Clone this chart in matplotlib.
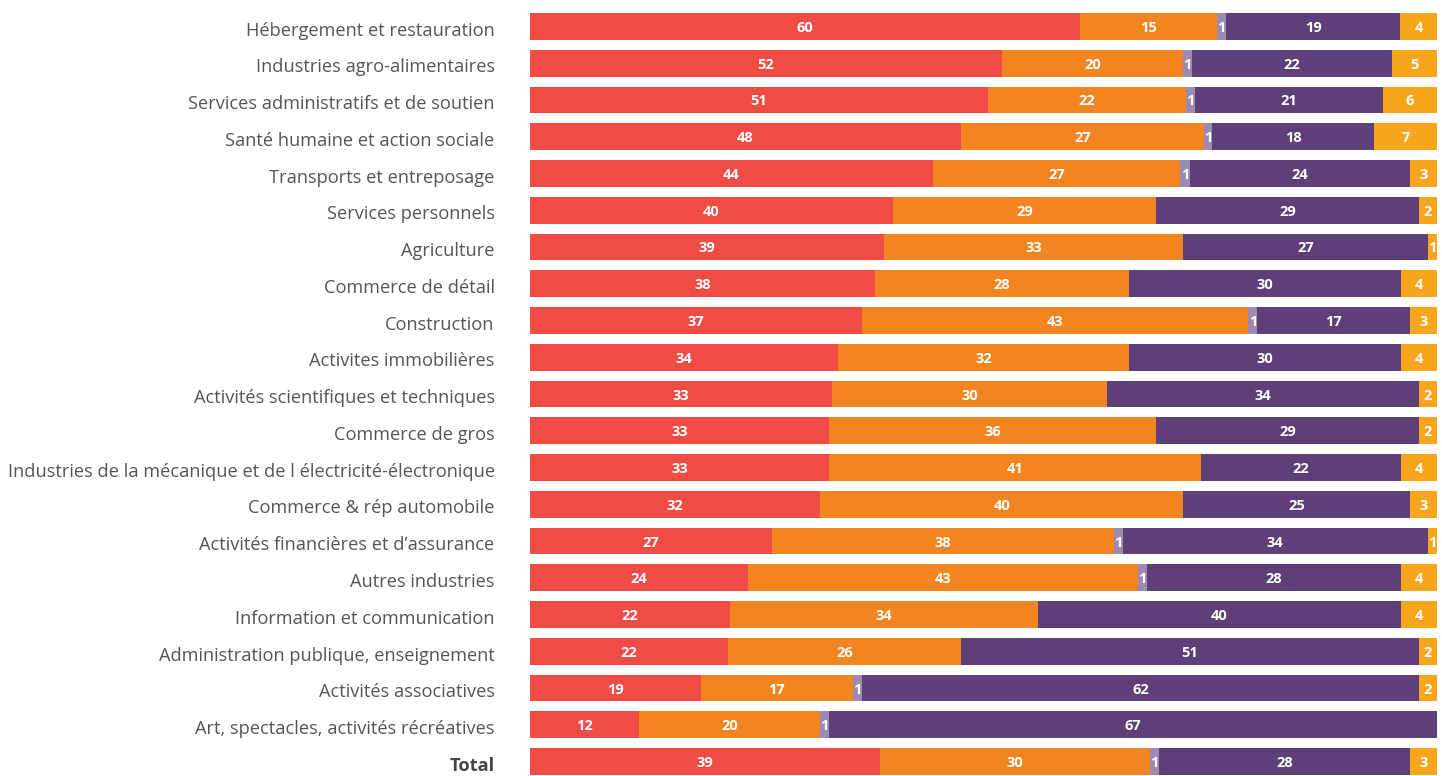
import matplotlib
matplotlib.use("Agg")
import matplotlib.pyplot as plt
import numpy as np

categories = [
    "Hébergement et restauration",
    "Industries agro-alimentaires",
    "Services administratifs et de soutien",
    "Santé humaine et action sociale",
    "Transports et entreposage",
    "Services personnels",
    "Agriculture",
    "Commerce de détail",
    "Construction",
    "Activites immobilières",
    "Activités scientifiques et techniques",
    "Commerce de gros",
    "Industries de la mécanique et de l électricité-électronique",
    "Commerce & rép automobile",
    "Activités financières et d\u2019assurance",
    "Autres industries",
    "Information et communication",
    "Administration publique, enseignement",
    "Activités associatives",
    "Art, spectacles, activités récréatives",
    "Total",
]

s_red    = [60, 52, 51, 48, 44, 40, 39, 38, 37, 34, 33, 33, 33, 32, 27, 24, 22, 22, 19, 12, 39]
s_orange = [15, 20, 22, 27, 27, 29, 33, 28, 43, 32, 30, 36, 41, 40, 38, 43, 34, 26, 17, 20, 30]
s_gray   = [1, 1, 1, 1, 1, 0, 0, 0, 1, 0, 0, 0, 0, 0, 1, 1, 0, 0, 1, 1, 1]
s_purple = [19, 22, 21, 18, 24, 29, 27, 30, 17, 30, 34, 29, 22, 25, 34, 28, 40, 51, 62, 67, 28]
s_yellow = [4, 5, 6, 7, 3, 2, 1, 4, 3, 4, 2, 2, 4, 3, 1, 4, 4, 2, 2, 0, 3]

series = [s_red, s_orange, s_gray, s_purple, s_yellow]
colors = ["#EF4C46", "#F38422", "#9C8BB0", "#5F3F77", "#F6A51D"]

data = np.array(series, dtype=float)
totals = data.sum(axis=0)
shares = data / totals * 100

fig = plt.figure(figsize=(14.42, 7.76), dpi=100)
h = 0.73
n = len(categories)
ax = fig.add_axes([530/1442, 1 - 775/776, (1437 - 530)/1442, (775 - 13)/776])

y = np.arange(n)
left = np.zeros(n)
for vals, pct, col in zip(series, shares, colors):
    ax.barh(y, pct, left=left, height=h, color=col, edgecolor="none")
    for i in range(n):
        if vals[i] > 0:
            ax.text(left[i] + pct[i] / 2, y[i], str(vals[i]), ha="center", va="center_baseline",
                    color="white", fontsize=10.5, fontweight="bold", family="Open Sans")
    left += pct

ax.set_xlim(0, 100)
ax.set_ylim(n - 1 + h / 2, -h / 2)
ax.axis("off")

for i, c in enumerate(categories):
    bold = c == "Total"
    ax.text(-3.9, y[i] + 0.06, c, ha="right", va="center_baseline", fontsize=13.15,
            color="#444444" if bold else "#555555",
            fontweight="bold" if bold else "normal", family="Open Sans")

fig.savefig("out.png", dpi=100)
